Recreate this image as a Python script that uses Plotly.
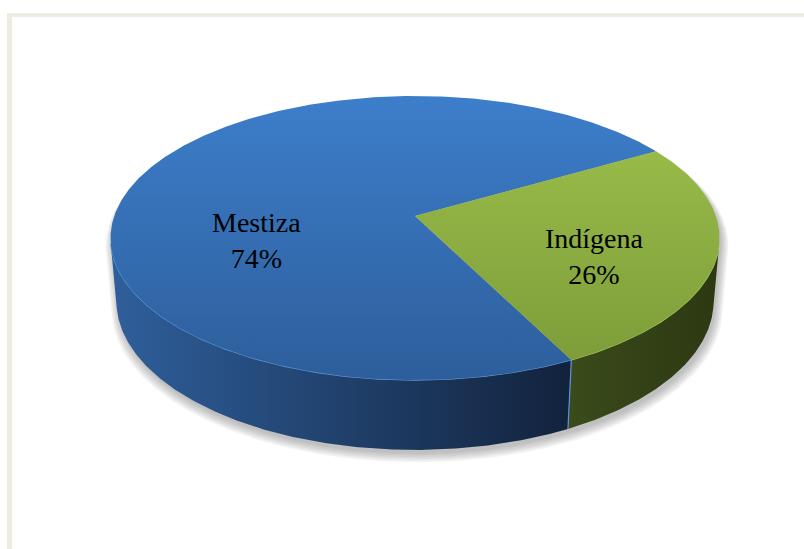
import numpy as np
import plotly.graph_objects as go

# Data
labels = ["Mestiza", "Indígena"]
values = [74, 26]

# Top-face vertical gradients and side horizontal gradients per slice
top_colors = [("#3D7ECB", "#2D5E9B"), ("#9EC24C", "#7B9A38")]
side_colors = [("#2F5F9B", "#12223C"), ("#3B4B1B", "#2C3812")]
rim_colors = ["#5E95D6", "#A9CA62"]
label_pos = [(256, 240), (594, 256)]

# 3D pie geometry (pixel space of the 804x549 canvas)
W, H_PX = 804, 549
CX, CY = 415.0, 216.0           # projected centre of the top face
SCALE = 300.8                   # pixels per unit radius at centre depth
ELEV = np.radians(27.44)        # camera elevation
DIST = 5.726                    # camera distance (unit radii)
THICK = 0.238                   # pie thickness (unit radii)
FIRST_ANGLE = 153.4             # first slice start, clockwise from 12 o'clock


def project(theta_deg, y, r=1.0):
    t = np.radians(np.asarray(theta_deg, dtype=float))
    X = r * np.cos(t)
    Z = r * np.sin(t)
    yv = y * np.cos(ELEV) + Z * np.sin(ELEV)
    zc = -y * np.sin(ELEV) + Z * np.cos(ELEV) + DIST
    sx = CX + SCALE * DIST * X / zc
    sy = CY - SCALE * DIST * yv / zc
    return sx, sy


def arc(a_from, a_to, y=0.0):
    n = max(int(abs(a_to - a_from) * 2) + 2, 3)
    th = np.linspace(a_from, a_to, n)
    return project(th, y)


# Visible band of the cylinder wall
lim = np.degrees(np.arcsin(-1.0 / (DIST * np.cos(ELEV))))
FRONT = (-180.0 - lim, lim)

total = float(sum(values))
starts, ends = [], []
a = 90.0 - FIRST_ANGLE
for v in values:
    span = 360.0 * v / total
    starts.append(a)
    ends.append(a - span)
    a -= span

fig = go.Figure()

# Soft drop shadow around the solid's silhouette
sil_top = arc(FRONT[1], FRONT[0] + 360.0, 0.0)
sil_bot = arc(FRONT[0], FRONT[1], -THICK)
sx = np.concatenate([sil_top[0], sil_bot[0]])
sy = np.concatenate([sil_top[1], sil_bot[1]])
for i in range(6):
    f = 1.0 + 0.0045 * i
    fig.add_trace(go.Scatter(
        x=CX + 2 + (sx - CX) * f, y=CY + 4 + i * 0.6 + (sy - CY) * f,
        fill="toself", mode="lines", line=dict(width=0),
        fillcolor="rgba(90,90,90,0.07)", hoverinfo="skip", showlegend=False))

# Side walls
for i in range(len(values)):
    a0, a1 = starts[i], ends[i]
    for shift in (-720, -360, 0, 360):
        lo = max(a1, FRONT[0] + shift)
        hi = min(a0, FRONT[1] + shift)
        if lo < hi:
            tx, ty = arc(hi, lo, 0.0)
            bx, by = arc(lo, hi, -THICK)
            px = np.concatenate([tx, bx, tx[:1]])
            py = np.concatenate([ty, by, ty[:1]])
            fig.add_trace(go.Scatter(
                x=px, y=py, fill="toself", mode="lines", line=dict(width=0),
                fillgradient=dict(type="horizontal",
                                  colorscale=[[0, side_colors[i][0]], [1, side_colors[i][1]]]),
                hoverinfo="skip", showlegend=False))
            # highlight along the top front edge
            fig.add_trace(go.Scatter(
                x=tx, y=ty, mode="lines",
                line=dict(color=rim_colors[i], width=1.2),
                hoverinfo="skip", showlegend=False))

# Top faces
for i in range(len(values)):
    ax_, ay_ = arc(starts[i], ends[i], 0.0)
    px = np.concatenate([[CX], ax_, [CX]])
    py = np.concatenate([[CY], ay_, [CY]])
    fig.add_trace(go.Scatter(
        x=px, y=py, fill="toself", mode="lines", line=dict(width=0),
        fillgradient=dict(type="vertical", start=96, stop=380,
                          colorscale=[[0, top_colors[i][0]], [1, top_colors[i][1]]]),
        hoverinfo="skip", showlegend=False, name=labels[i]))

# Slice seams on the visible wall
for b in starts:
    bn = ((b - FRONT[0]) % 360.0) + FRONT[0]
    if FRONT[0] < bn < FRONT[1]:
        x0, y0 = project(bn, 0.0)
        x1, y1 = project(bn, -THICK)
        fig.add_trace(go.Scatter(
            x=[x0, x1], y=[y0, y1], mode="lines",
            line=dict(color="#5B93D6", width=1.2),
            hoverinfo="skip", showlegend=False))

# Data labels
for i in range(len(values)):
    pct = round(100.0 * values[i] / total)
    fig.add_annotation(
        x=label_pos[i][0], y=label_pos[i][1], xref="x", yref="y",
        text=f"{labels[i]}<br>{pct}%", showarrow=False,
        xanchor="center", yanchor="middle", align="center",
        font=dict(family="Liberation Serif, Times New Roman, serif", size=28, color="#000000"))

# Chart-area frame
frame = "#EEEBE0"
fig.add_shape(type="rect", xref="x", yref="y", x0=7, x1=W, y0=13, y1=17,
              fillcolor=frame, line=dict(width=0), layer="below")
fig.add_shape(type="rect", xref="x", yref="y", x0=7, x1=12, y0=13, y1=H_PX,
              fillcolor=frame, line=dict(width=0), layer="below")

fig.update_layout(
    width=W, height=H_PX,
    margin=dict(l=0, r=0, t=0, b=0),
    paper_bgcolor="white", plot_bgcolor="white",
    xaxis=dict(range=[0, W], visible=False, fixedrange=True),
    yaxis=dict(range=[H_PX, 0], visible=False, fixedrange=True),
    showlegend=False,
)

fig.write_html("out.html")
